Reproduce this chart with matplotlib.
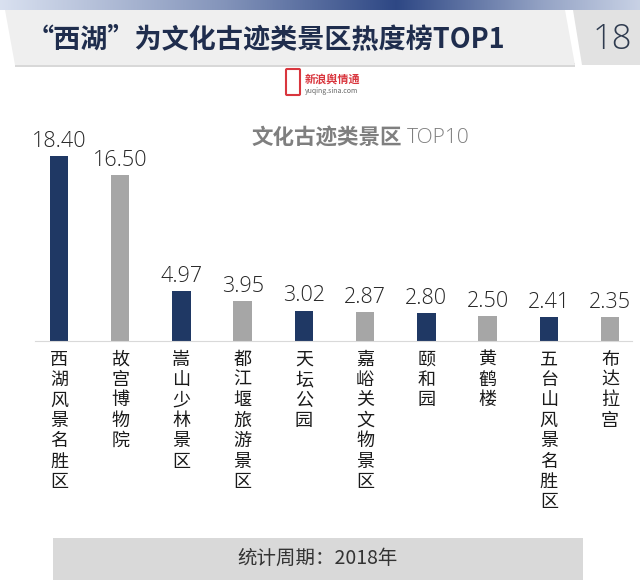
import numpy as np
import matplotlib
matplotlib.use("Agg")
import matplotlib.pyplot as plt
from matplotlib.patches import Polygon, Rectangle, FancyBboxPatch

plt.rcParams["font.family"] = ["Noto Sans CJK SC", "DejaVu Sans"]

names = ["西湖风景名胜区", "故宫博物院", "嵩山少林景区", "都江堰旅游景区", "天坛公园",
         "嘉峪关文物景区", "颐和园", "黄鹤楼", "五台山风景名胜区", "布达拉宫"]
values = [18.40, 16.50, 4.97, 3.95, 3.02, 2.87, 2.80, 2.50, 2.41, 2.35]
colors = ["#1f3864", "#a6a6a6"] * 5

W, H = 640, 580
fig = plt.figure(figsize=(W / 100, H / 100), dpi=100)

# background layer in pixel coordinates
bg = fig.add_axes([0, 0, 1, 1], zorder=0)
bg.set_xlim(0, W)
bg.set_ylim(H, 0)
bg.axis("off")

# top gradient strip
grad = np.interp(np.linspace(0, 1, 256), [0, 0.35, 0.62, 0.85, 1.0], [0.0, 0.5, 1.0, 0.4, 0.1])
c0 = np.array([0.85, 0.88, 0.94])
c1 = np.array([0.18, 0.28, 0.52])
strip = c0[None, :] * (1 - grad[:, None]) + c1[None, :] * grad[:, None]
bg.imshow(strip[None, :, :], extent=[0, W, 10, 0], aspect="auto", zorder=1)

# title band
bg.add_patch(Polygon([[5, 10], [565, 10], [575, 65], [15, 65]], closed=True,
                     facecolor="#efefef", edgecolor="none", zorder=2))
bg.add_patch(Polygon([[15, 63], [575, 63], [575, 67], [15, 67]], closed=True,
                     facecolor="#d8d8d8", edgecolor="none", zorder=1.5))
bg.add_patch(Polygon([[573, 10], [640, 10], [640, 65], [582, 65]], closed=True,
                     facecolor="#e2e2e2", edgecolor="none", zorder=2))
bg.text(27, 39, "“西湖”为文化古迹类景区热度榜TOP1", fontsize=19.5, fontweight="bold",
        color="#1f2d4d", ha="left", va="center", zorder=3)
bg.text(612, 40, "18", fontsize=25, color="#2f3b4f", ha="center", va="center",
        family="Open Sans", fontweight="light", zorder=3)

# logo
bg.add_patch(FancyBboxPatch((287, 70), 12, 24, boxstyle="round,pad=1",
                            facecolor="white", edgecolor="#d9363e", linewidth=1.5, zorder=3))
bg.text(305, 79, "新浪舆情通", fontsize=8, color="#d9363e", fontweight="bold",
        style="italic", ha="left", va="center", zorder=3)
bg.text(305, 91, "yuqing.sina.com", fontsize=5, color="#666666",
        ha="left", va="center", zorder=3)

# footer
bg.add_patch(Rectangle((53, 538), 530, 42, facecolor="#d9d9d9", edgecolor="none", zorder=2))
bg.text(318, 558, "统计周期：2018年", fontsize=14, color="#333333",
        ha="center", va="center", zorder=3)

# chart
ax_left, ax_right = 35, 632
base_y, top_y = 341, 120
ax = fig.add_axes([ax_left / W, (H - base_y) / H, (ax_right - ax_left) / W, (base_y - top_y) / H],
                  zorder=1)
ax.patch.set_alpha(0)
x = np.arange(len(names))
step = 61.2
ax.set_xlim(-(59 - ax_left) / step, 9 + (ax_right - 610) / step)
ax.set_ylim(0, (base_y - top_y) / 10.05)
ax.bar(x, values, width=0.3, color=colors)
for xi, v in zip(x, values):
    ax.annotate(f"{v:.2f}", (xi, v), xytext=(0, 3), textcoords="offset points",
                ha="center", va="bottom", fontsize=15.5, color="#262626",
                family="Open Sans", fontweight="light")
for xi, n in zip(x, names):
    ax.annotate("\n".join(n), (xi, 0), xytext=(0, -7), textcoords="offset points",
                ha="center", va="top", fontsize=13, color="#1a1a1a", linespacing=1.17,
                annotation_clip=False)
for s in ["top", "right", "left"]:
    ax.spines[s].set_visible(False)
ax.spines["bottom"].set_color("#d9d9d9")
ax.set_xticks([])
ax.set_yticks([])
bg.text(251, 138, "文化古迹类景区", fontsize=15.5, color="#7f7f7f", fontweight="bold",
        ha="left", va="center", zorder=3)
bg.text(407, 138, "TOP10", fontsize=15, color="#7f7f7f", family="Open Sans",
        fontweight="light", ha="left", va="center", zorder=3)

fig.savefig("out.png", dpi=100)
